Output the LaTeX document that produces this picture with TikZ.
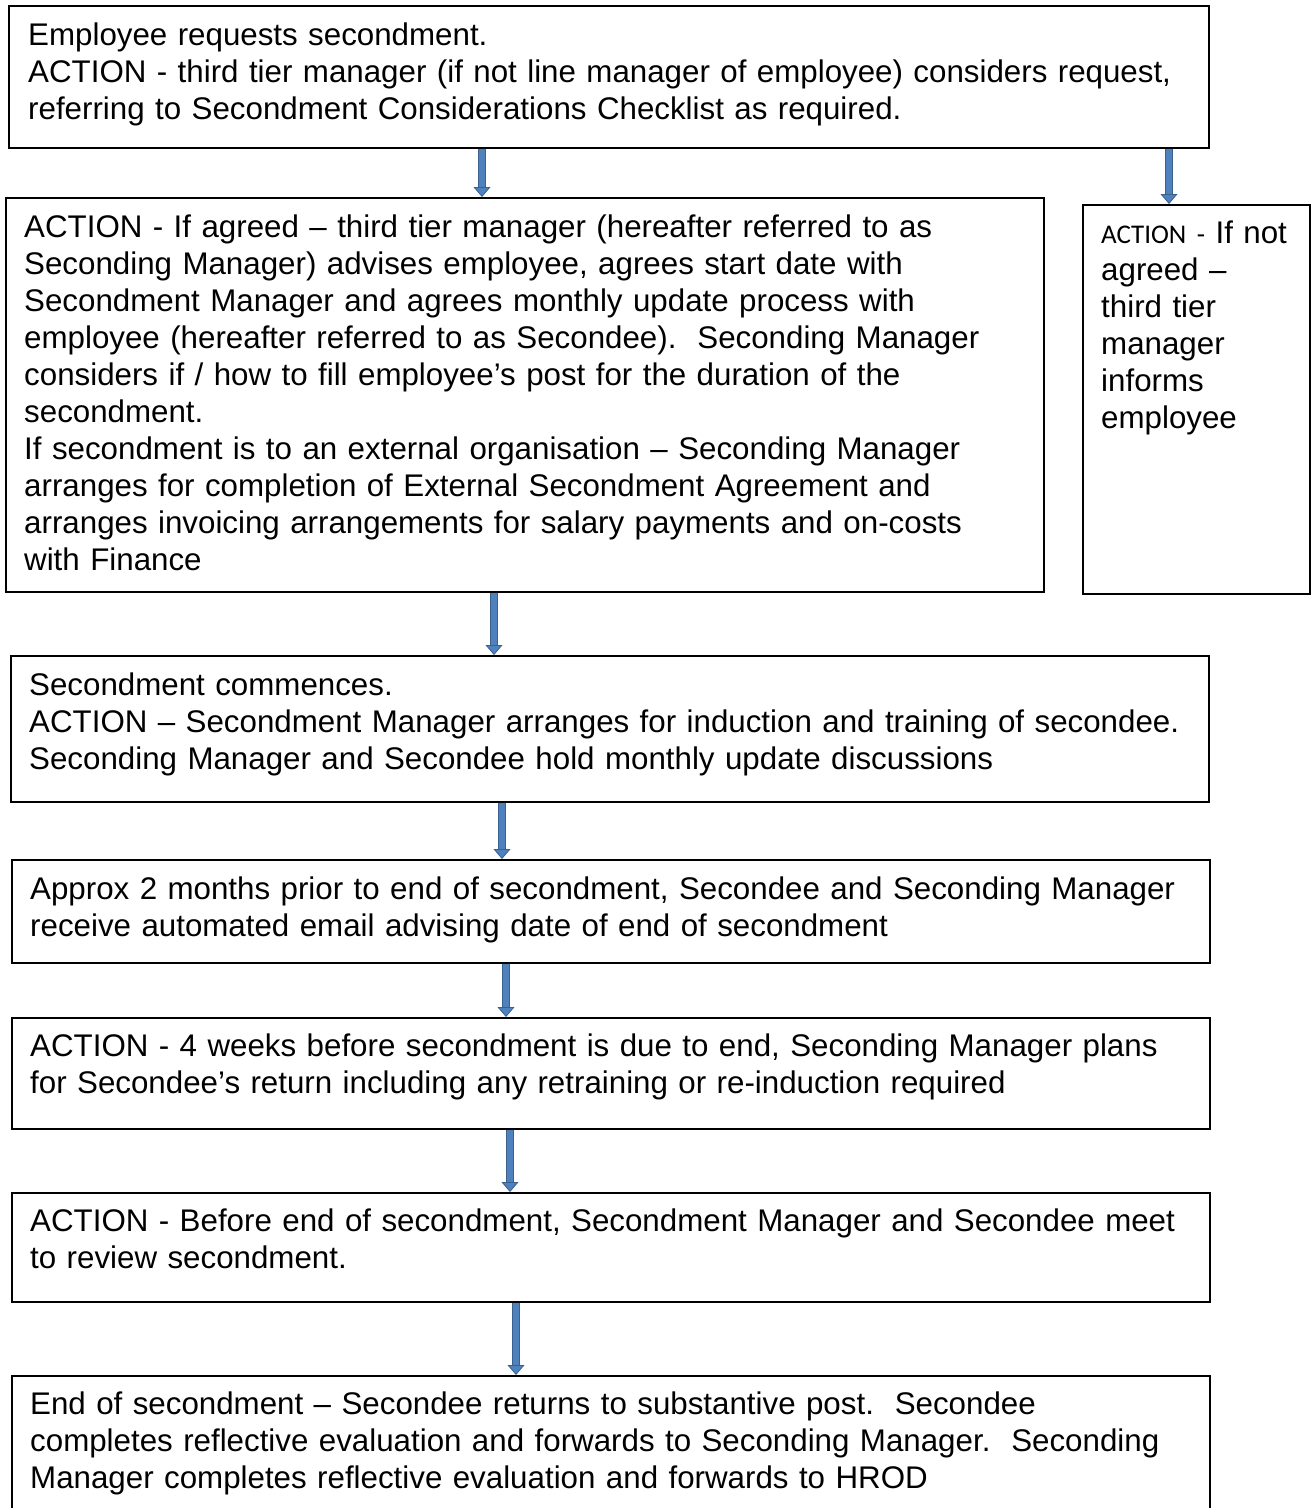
\documentclass[tikz,border=0pt]{standalone}
\usepackage{fontspec}
\setmainfont{Liberation Sans}
\newfontfamily\calibri{Carlito}
\usetikzlibrary{positioning,arrows.meta}

\definecolor{arrowfill}{RGB}{79,129,189}
\definecolor{arrowline}{RGB}{58,96,142}

\tikzstyle{every node}+=[inner sep=0pt]
\tikzstyle{box}=[draw,line width=1.6pt,anchor=north west]
\tikzstyle{txt}=[align=left,text width=1185pt,font=\fontsize{31.3}{37}\selectfont,execute at begin node=\strut]
\tikzstyle{flow}=[line width=5.5pt,arrowfill,
  -{Triangle[width=17pt,length=10pt,line width=0.8pt,fill=arrowfill,color=arrowline]},
  preaction={draw=arrowline,line width=7.5pt,-,shorten >=9pt}]

\begin{document}
\begin{tikzpicture}[x=1pt,y=-1pt]
\useasboundingbox (0,0) rectangle (1311,1508);

% boxes
\node[box,minimum width=1200pt,minimum height=142pt] (b1) at (8,5) {};
\node[box,minimum width=1038pt,minimum height=394pt] (b2) at (5,197) {};
\node[box,minimum width=227pt,minimum height=389pt] (b3) at (1082,204) {};
\node[box,minimum width=1198pt,minimum height=146pt] (b4) at (10,655) {};
\node[box,minimum width=1198pt,minimum height=103pt] (b5) at (11,859) {};
\node[box,minimum width=1198pt,minimum height=111pt] (b6) at (11,1017) {};
\node[box,minimum width=1198pt,minimum height=109pt] (b7) at (11,1192) {};
\node[box,minimum width=1198pt,minimum height=140pt] (b8) at (11,1375) {};

% texts
\node[txt,below right=14pt and 20pt of b1.north west] (t1) {Employee requests secondment.\\
ACTION - third tier manager (if not line manager of employee) considers request,\\
referring to Secondment Considerations Checklist as required.};
\node[txt,below right=14pt and 19pt of b2.north west] (t2) {ACTION - If agreed – third tier manager (hereafter referred to as\\
Seconding Manager) advises employee, agrees start date with\\
Secondment Manager and agrees monthly update process with\\
employee (hereafter referred to as Secondee).\ \ Seconding Manager\\
considers if / how to fill employee’s post for the duration of the\\
secondment.\\
If secondment is to an external organisation – Seconding Manager\\
arranges for completion of External Secondment Agreement and\\
arranges invoicing arrangements for salary payments and on-costs\\
with Finance};
\node[txt,text width=200pt,below right=13pt and 19pt of b3.north west] (t3) {{\calibri\fontsize{27}{37}\selectfont ACTION -} If not\\
agreed –\\
third tier\\
manager\\
informs\\
employee};
\node[txt,below right=14pt and 19pt of b4.north west] (t4) {Secondment commences.\\
ACTION – Secondment Manager arranges for induction and training of secondee.\\
Seconding Manager and Secondee hold monthly update discussions};
\node[txt,below right=14pt and 19pt of b5.north west] (t5) {Approx 2 months prior to end of secondment, Secondee and Seconding Manager\\
receive automated email advising date of end of secondment};
\node[txt,below right=13pt and 19pt of b6.north west] (t6) {ACTION - 4 weeks before secondment is due to end, Seconding Manager plans\\
for Secondee’s return including any retraining or re-induction required};
\node[txt,below right=13pt and 19pt of b7.north west] (t7) {ACTION - Before end of secondment, Secondment Manager and Secondee meet\\
to review secondment.};
\node[txt,below right=13pt and 19pt of b8.north west] (t8) {End of secondment – Secondee returns to substantive post.\ \ Secondee\\
completes reflective evaluation and forwards to Seconding Manager.\ \ Seconding\\
Manager completes reflective evaluation and forwards to HROD};

% arrows
\draw[flow] ([xshift=474pt]b1.south west) -- ([xshift=477pt]b2.north west);
\draw[flow] ([xshift=1161pt]b1.south west) -- ([xshift=87pt]b3.north west);
\draw[flow] ([xshift=489pt]b2.south west) -- ([xshift=484pt]b4.north west);
\draw[flow] ([xshift=492pt]b4.south west) -- ([xshift=491pt]b5.north west);
\draw[flow] ([xshift=495pt]b5.south west) -- ([xshift=495pt]b6.north west);
\draw[flow] ([xshift=499pt]b6.south west) -- ([xshift=499pt]b7.north west);
\draw[flow] ([xshift=505pt]b7.south west) -- ([xshift=505pt]b8.north west);
\end{tikzpicture}
\end{document}
